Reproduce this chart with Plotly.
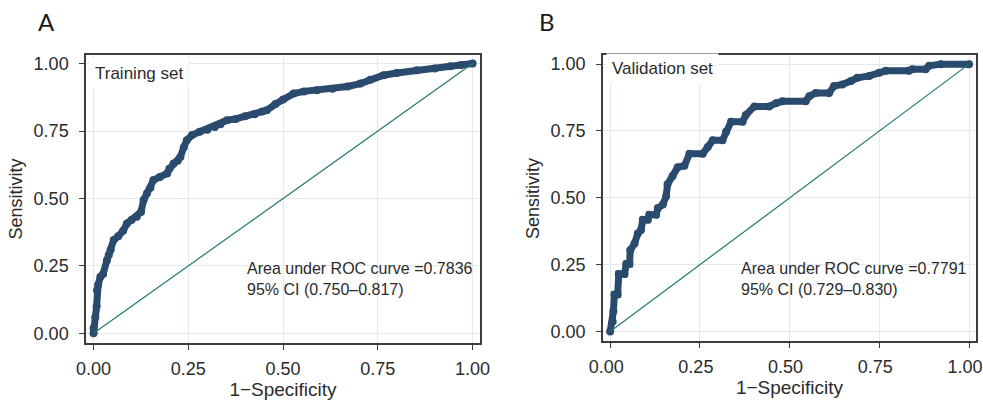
import plotly.graph_objects as go

# ---------------- data ----------------
train_fpr = [0.0, 0.0, 0.0045, 0.008, 0.009, 0.012, 0.018, 0.025, 0.035, 0.04, 0.045, 0.053,
             0.065, 0.078, 0.088, 0.1, 0.114, 0.125, 0.132, 0.141, 0.15, 0.158, 0.175, 0.194,
             0.2, 0.211, 0.222, 0.229, 0.238, 0.246, 0.26, 0.28, 0.3, 0.32, 0.335, 0.352,
             0.375, 0.4, 0.425, 0.445, 0.457, 0.48, 0.5, 0.528, 0.555, 0.589, 0.63, 0.67,
             0.704, 0.73, 0.765, 0.8, 0.853, 0.9, 0.941, 0.97, 1.0]
train_tpr = [0.0, 0.02, 0.06, 0.1, 0.16, 0.18, 0.21, 0.22, 0.27, 0.29, 0.31, 0.346,
             0.36, 0.38, 0.407, 0.42, 0.432, 0.45, 0.494, 0.519, 0.54, 0.568, 0.58, 0.593,
             0.61, 0.63, 0.64, 0.654, 0.69, 0.716, 0.735, 0.747, 0.755, 0.765, 0.775, 0.79,
             0.795, 0.805, 0.812, 0.822, 0.827, 0.85, 0.867, 0.889, 0.897, 0.901, 0.907, 0.915,
             0.926, 0.94, 0.957, 0.965, 0.975, 0.982, 0.99, 0.995, 1.0]

valid_fpr = [0.0, 0.007, 0.009, 0.012, 0.021, 0.024, 0.04, 0.045, 0.054, 0.056, 0.068, 0.077,
             0.086, 0.091, 0.105, 0.109, 0.128, 0.133, 0.147, 0.156, 0.16, 0.174, 0.188, 0.207,
             0.221, 0.258, 0.272, 0.286, 0.313, 0.323, 0.337, 0.369, 0.378, 0.402, 0.443, 0.462,
             0.48, 0.545, 0.555, 0.573, 0.61, 0.624, 0.647, 0.671, 0.689, 0.722, 0.75, 0.768,
             0.833, 0.842, 0.879, 0.889, 0.921, 1.0]
valid_tpr = [0.0, 0.038, 0.076, 0.139, 0.139, 0.215, 0.215, 0.253, 0.253, 0.304, 0.329, 0.367,
             0.38, 0.418, 0.418, 0.437, 0.437, 0.462, 0.475, 0.506, 0.551, 0.582, 0.614, 0.62,
             0.665, 0.665, 0.69, 0.715, 0.715, 0.747, 0.785, 0.785, 0.81, 0.842, 0.842, 0.854,
             0.861, 0.861, 0.88, 0.892, 0.892, 0.918, 0.924, 0.937, 0.949, 0.956, 0.968, 0.975,
             0.975, 0.981, 0.981, 0.994, 1.0, 1.0]

diag_x = [0, 1]
diag_y = [0, 1]

tick_vals = [0, 0.25, 0.5, 0.75, 1.0]
tick_text = ["0.00", "0.25", "0.50", "0.75", "1.00"]

panel_letters = ["A", "B"]
set_names = ["Training set", "Validation set"]
auc_text = ["Area under ROC curve =0.7836<br>95% CI (0.750–0.817)",
            "Area under ROC curve =0.7791<br>95% CI (0.729–0.830)"]

# ---------------- styling ----------------
CURVE = "#2a4a6e"
DIAG = "#1f7a6a"
GRID = "#e1ebee"
FRAME = "#3c3c3c"
TXT = "#2b2b2b"
FONT = "Liberation Sans, Arial, sans-serif"

fig = go.Figure()

fig.add_trace(go.Scatter(x=train_fpr, y=train_tpr, mode="lines+markers",
                         line=dict(color=CURVE, width=7), marker=dict(color=CURVE, size=8),
                         xaxis="x", yaxis="y", showlegend=False, hoverinfo="skip"))
fig.add_trace(go.Scatter(x=diag_x, y=diag_y, mode="lines", line=dict(color=DIAG, width=1.2),
                         xaxis="x", yaxis="y", showlegend=False, hoverinfo="skip"))
fig.add_trace(go.Scatter(x=valid_fpr, y=valid_tpr, mode="lines+markers",
                         line=dict(color=CURVE, width=7), marker=dict(color=CURVE, size=8),
                         xaxis="x2", yaxis="y2", showlegend=False, hoverinfo="skip"))
fig.add_trace(go.Scatter(x=diag_x, y=diag_y, mode="lines", line=dict(color=DIAG, width=1.2),
                         xaxis="x2", yaxis="y2", showlegend=False, hoverinfo="skip"))


def xax(domain, anchor, shift=0):
    return dict(domain=domain, anchor=anchor, range=[-0.02, 1.0195],
                tickvals=tick_vals, ticktext=tick_text, ticks="outside", ticklen=5,
                tickcolor=FRAME, tickwidth=1.2, showline=True, mirror=True,
                linecolor=FRAME, linewidth=1.5, showgrid=True, gridcolor=GRID,
                gridwidth=1, zeroline=False, automargin=False, ticklabeloverflow="allow",
                ticklabelshift=shift,
                tickfont=dict(family=FONT, size=18, color=TXT), ticklabelstandoff=3,
                title=dict(text="1−Specificity", font=dict(family=FONT, size=19, color=TXT),
                           standoff=4))


def yax(domain, anchor):
    return dict(domain=domain, anchor=anchor, range=[-0.037, 1.033],
                tickvals=tick_vals, ticktext=tick_text, ticks="outside", ticklen=5,
                tickcolor=FRAME, tickwidth=1.2, showline=True, mirror=True,
                linecolor=FRAME, linewidth=1.5, showgrid=True, gridcolor=GRID,
                gridwidth=1, zeroline=False, automargin=False, ticklabeloverflow="allow",
                tickfont=dict(family=FONT, size=18, color=TXT), ticklabelstandoff=7,
                title=dict(text="Sensitivity", font=dict(family=FONT, size=18, color=TXT),
                           standoff=6))


fig.update_layout(
    width=983, height=401,
    margin=dict(l=0, r=0, t=0, b=0),
    paper_bgcolor="white", plot_bgcolor="white",
    xaxis=xax([0.0875, 0.4883], "y"),
    yaxis=yax([0.1439, 0.8636], "x"),
    xaxis2=xax([0.6134, 0.9929], "y2", shift=-4),
    yaxis2=yax([0.1484, 0.8621], "x2"),
)

annotations = []
# panel letters
for letter, xp in zip(panel_letters, [0.047, 0.556]):
    annotations.append(dict(text=letter, xref="paper", yref="paper", x=xp, y=0.947,
                            xanchor="center", yanchor="middle", showarrow=False,
                            font=dict(family="Lato, Liberation Sans, sans-serif", size=24,
                                      color="#1a1a1a")))
# set names
for name, xr, yr, yv in zip(set_names, ["x", "x2"], ["y", "y2"], [0.963, 0.985]):
    annotations.append(dict(text=name, xref=xr, yref=yr, x=-0.012, y=yv,
                            xanchor="left", yanchor="middle", showarrow=False,
                            bgcolor="white", borderpad=5,
                            font=dict(family=FONT, size=17, color=TXT)))
# AUC text
for t, xr, yr, xv, yv in zip(auc_text, ["x", "x2"], ["y", "y2"], [0.4, 0.358], [0.203, 0.196]):
    annotations.append(dict(text=t, xref=xr, yref=yr, x=xv, y=yv, xanchor="left",
                            yanchor="middle", align="left", showarrow=False,
                            font=dict(family=FONT, size=16, color=TXT)))
fig.update_layout(annotations=annotations)

fig.write_html(
    "out.html",
    config={"displayModeBar": False},
    post_script="document.documentElement.style.margin='0';document.body.style.margin='0';"
                "document.body.style.overflow='hidden';",
)
